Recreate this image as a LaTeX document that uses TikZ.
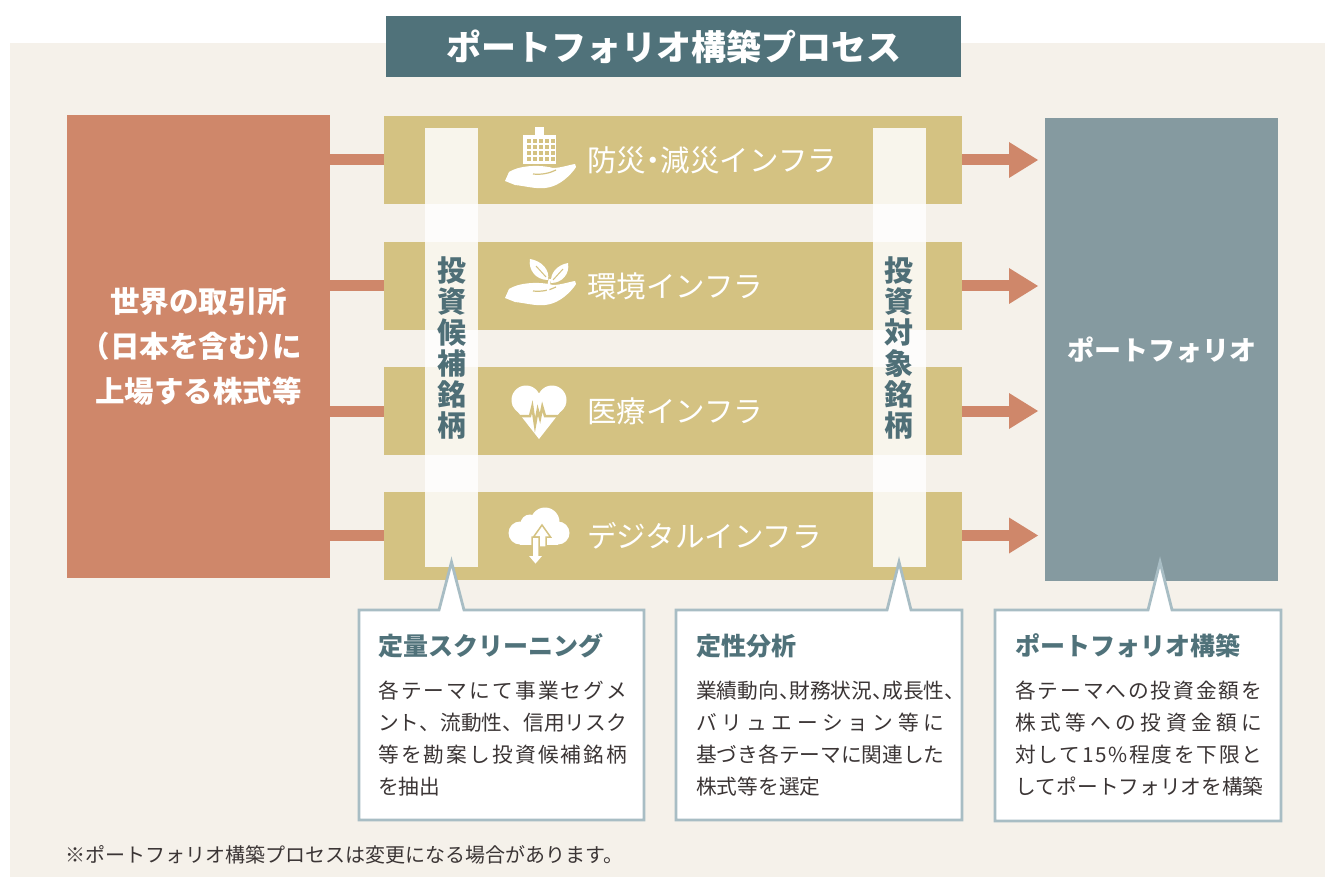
\documentclass[tikz,border=0pt]{standalone}
\usepackage{fontspec}
\setmainfont{Noto Sans CJK JP}
\usetikzlibrary{arrows.meta}
\definecolor{bgc}{HTML}{F5F1EA}
\definecolor{tealc}{HTML}{50727A}
\definecolor{salmonc}{HTML}{CF876A}
\definecolor{goldc}{HTML}{D4C282}
\definecolor{portc}{HTML}{859AA0}
\definecolor{stripc}{HTML}{4F6F77}
\definecolor{borderc}{HTML}{A8BDC4}
\definecolor{bodyc}{HTML}{3B3535}
\def\jlEnd{JLEND}
\newcommand\jl[2]{\hbox to #1{\jlA#2\jlEnd}}
\def\jlA#1{#1\jlB}
\def\jlB#1{\ifx#1\jlEnd\else\hfil#1\expandafter\jlB\fi}
\newcommand\hc{\makebox[0.5em][l]{、}}
\newcommand\lp{\makebox[0.5em][r]{（}}
\newcommand\rp{\makebox[0.5em][l]{）}}
\newcommand\hdot{\makebox[0.5em][c]{・}}
\tikzset{
  hand/.pic={
    \fill[white] (-35,5) -- (-31,-4) .. controls (-22,-10) and (-2,-12) .. (13,-8)
      .. controls (20,-8) and (29,-11) .. (35,-12) .. controls (37,-10) and (36,-8) .. (34,-6)
      .. controls (26,4) and (16,11) .. (5,12) .. controls (-5,13) and (-15,10) .. (-25,9) -- cycle;
    \draw[goldc,line width=1.2pt] (-7,-2) .. controls (2,-1) and (10,-3) .. (16,-6);
  }
}
\begin{document}
\begin{tikzpicture}[x=1pt,y=-1pt,
  plainbox/.style={inner sep=0pt,outer sep=0pt,draw=none},
  band/.style={plainbox,fill=goldc,minimum width=578pt,minimum height=88pt},
  strip/.style={plainbox,fill=white,fill opacity=0.85,minimum width=53pt,minimum height=439pt},
  striptext/.style={inner sep=0pt,text=stripc,align=center,font=\bfseries\fontsize{29}{31}\selectfont},
  bandlabel/.style={inner sep=0pt,anchor=west,text=white,font=\fontsize{29.5}{29.5}\selectfont},
  conn/.style={salmonc,line width=11pt},
  arrowc/.style={salmonc,line width=11pt,-{Triangle[length=29pt,width=36pt,line width=0pt]},shorten >=7pt},
  callout/.style={draw=borderc,fill=white,line width=2.8pt},
  ctitle/.style={anchor=base west,inner sep=0pt,text=tealc,font=\bfseries\fontsize{25}{25}\selectfont},
  cbody/.style={anchor=base west,inner sep=0pt,text=bodyc,font=\fontsize{20.7}{20.7}\selectfont},
]
\useasboundingbox (0,0) rectangle (1325,877);
\fill[white] (0,0) rectangle (1325,877);
\fill[bgc] (10,43) rectangle (1325,877);

% title
\node[plainbox,fill=tealc,minimum width=575pt,minimum height=61pt,text=white,
  font=\bfseries\fontsize{35}{35}\selectfont] (title) at (673.5,46.5) {ポートフォリオ構築プロセス};

% source box
\node[plainbox,fill=salmonc,minimum width=263pt,minimum height=463pt,text=white,align=center,
  font=\bfseries\fontsize{29.5}{45}\selectfont] (src) at (198.5,346.5)
  {世界の取引所\\\lp 日本を含む\rp に\\上場する株式等};

% portfolio box
\node[plainbox,fill=portc,minimum width=233pt,minimum height=463pt,text=white,
  font=\bfseries\fontsize{27}{27}\selectfont] (port) at (1161.5,349.5) {ポートフォリオ};

% bands
\node[band] (b1) at (673,160) {};
\node[band] (b2) at (673,286) {};
\node[band] (b3) at (673,411) {};
\node[band] (b4) at (673,535.5) {};

% connectors
\foreach \b in {b1,b2,b3,b4}{
  \draw[conn] (src.east |- \b.west) -- (\b.west);
  \draw[arrowc] (\b.east) -- (\b.east -| port.west);
}

% band labels
\node[bandlabel] (l1) at (587,160) {防災\hdot 減災インフラ};
\node[bandlabel] (l2) at (587,286) {環境インフラ};
\node[bandlabel] (l3) at (587,411) {医療インフラ};
\node[bandlabel] (l4) at (587,535.5) {デジタルインフラ};

% icon 1: building + hand
\fill[white] (523,135) rectangle (556,164);
\fill[white] (535,127) rectangle (544,136);
\foreach \i in {0,...,4} \foreach \j in {0,...,3}
  \fill[goldc] ({526.5+6*\i},{139+6*\j}) rectangle ++(4,4);
\pic at (540,176) {hand};

% icon 2: sprout + hand
\pic at (540,293) {hand};
\draw[white,line width=2.5pt] (548,293) .. controls (548,287) and (549,283) .. (550,279);
\fill[white] (548,280) .. controls (536,280) and (528,270) .. (530,259) .. controls (542,261) and (550,270) .. (548,280) -- cycle;
\fill[white] (551,283) .. controls (550,273) and (557,265) .. (568,263) .. controls (570,274) and (562,283) .. (551,283) -- cycle;
\draw[goldc,line width=1pt] (546,277) -- (536,266);
\draw[goldc,line width=1pt] (553,280) -- (563,269);

% icon 3: heart with pulse
\fill[white] (526,400) circle[radius=14.5];
\fill[white] (552,400) circle[radius=14.5];
\fill[white] (512.4,405) -- (539,439) -- (565.6,405) -- (539,395) -- cycle;
\draw[goldc,line width=2.5pt,line join=miter] (508,416) -- (530,416) -- (532.3,406.7) -- (535,425)
  -- (537.7,410) -- (540,418.3) -- (542.3,406.7) -- (545,416) -- (570,416);

% icon 4: cloud with arrows
\fill[white] (520,533) circle[radius=11.5];
\fill[white] (545,522) circle[radius=14.5];
\fill[white] (530,524) circle[radius=9.5];
\fill[white] (558,533) circle[radius=11.5];
\fill[white] (520,530) rectangle (558,544.5);
\filldraw[fill=white,draw=goldc,line width=1.5pt] (542,525) -- (550.5,537) -- (546,537) -- (546,547)
  -- (539,547) -- (539,537) -- (533.5,537) -- cycle;
\filldraw[fill=white,draw=goldc,line width=1.5pt] (532,537) -- (539,537) -- (539,555)
  -- (544,555) -- (535.5,565) -- (527,555) -- (532,555) -- cycle;

% strips
\node[strip] (sL) at (451.5,347.5) {};
\node[strip] (sR) at (899,347.5) {};
\node[striptext] (sLt) at (sL.center) {投\\資\\候\\補\\銘\\柄};
\node[striptext] (sRt) at (sR.center) {投\\資\\対\\象\\銘\\柄};

% callouts
\filldraw[callout] (359,610) -- (439,610) -- (451.5,562) -- (464,610) -- (644,610) -- (644,820) -- (359,820) -- cycle;
\filldraw[callout] (676,610) -- (887,610) -- (899,562) -- (911,610) -- (962,610) -- (962,820) -- (676,820) -- cycle;
\filldraw[callout] (995,610) -- (1148,610) -- (1160,562) -- (1172,610) -- (1281,610) -- (1281,821) -- (995,821) -- cycle;

\node[ctitle] (c1t) at (378,655.5) {定量スクリーニング};
\node[cbody] (c1a) at (378,698) {\jl{249pt}{各テーマにて事業セグメ}};
\node[cbody] (c1b) at (378,730) {\jl{249pt}{ント、流動性、信用リスク}};
\node[cbody] (c1c) at (378,762) {\jl{249pt}{等を勘案し投資候補銘柄}};
\node[cbody] (c1d) at (378,794) {を抽出};

\node[ctitle] (c2t) at (696,655.5) {定性分析};
\node[cbody] (c2a) at (696,698) {\jl{248pt}{業績動向\hc 財務状況\hc 成長性\hc}};
\node[cbody] (c2b) at (696,730) {\jl{248pt}{バリュエーション等に}};
\node[cbody] (c2c) at (696,762) {\jl{248pt}{基づき各テーマに関連した}};
\node[cbody] (c2d) at (696,794) {株式等を選定};

\node[ctitle] (c3t) at (1015,655.5) {ポートフォリオ構築};
\node[cbody] (c3a) at (1015,698) {\jl{247pt}{各テーマへの投資金額を}};
\node[cbody] (c3b) at (1015,730) {\jl{247pt}{株式等への投資金額に}};
\node[cbody] (c3c) at (1015,762) {\jl{247pt}{対して15\%程度を下限と}};
\node[cbody] (c3d) at (1015,794) {\jl{247pt}{してポートフォリオを構築}};

% footnote
\node[anchor=west,inner sep=0pt,text=bodyc,font=\fontsize{20}{20}\selectfont] (note) at (65,855)
  {※ポートフォリオ構築プロセスは変更になる場合があります。};
\end{tikzpicture}
\end{document}
